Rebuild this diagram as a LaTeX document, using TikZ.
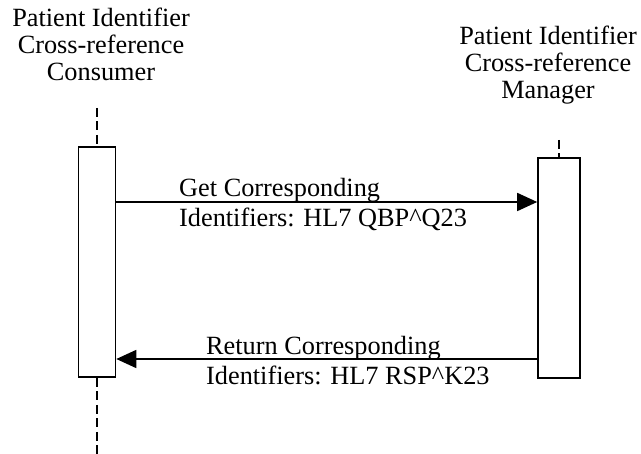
\documentclass[tikz,border=0pt]{standalone}
\usepackage{fontspec}
\setmainfont{Liberation Serif}
\usetikzlibrary{arrows.meta}
\begin{document}
\begin{tikzpicture}[x=1pt,y=-1pt,
  title/.style={align=center,inner sep=0pt,anchor=north,font=\fontsize{26.3}{27}\selectfont},
  lbl/.style={align=left,inner sep=0pt,anchor=north west,font=\fontsize{26.3}{30}\selectfont},
  actbox/.style={draw,line width=1.6pt,fill=white,inner sep=0pt,minimum width=37pt},
  life/.style={line width=2pt,dash pattern=on 9pt off 4.5pt},
  msg/.style={line width=1.6pt,-{Triangle[length=20pt,width=18pt]}}]
\useasboundingbox (0,0) rectangle (641,454);
\node[title] (ct) at (101,8) {Patient Identifier\\Cross-reference\\Consumer};
\node[title] (mt) at (548,26) {Patient Identifier\\Cross-reference\\Manager};
\coordinate (ctop) at (97,108);
\coordinate (cbot) at (97,454);
\coordinate (mtop) at (559,140);
\node[actbox,minimum height=230pt] (cbox) at (97,262) {};
\node[actbox,minimum height=220pt,minimum width=42pt] (mbox) at (559,268) {};
\draw[life] (ctop) -- (cbox.north);
\draw[life] (cbox.south) -- (cbot);
\draw[life] (mtop) -- (mbox.north);
\draw[msg] (cbox.east |- 0,202) -- (mbox.west |- 0,202);
\draw[msg] (mbox.west |- 0,359) -- (cbox.east |- 0,359);
\node[lbl] (l1) at (179,178) {Get Corresponding\\Identifiers: HL7 QBP\textasciicircum Q23};
\node[lbl] (l2) at (206,336) {Return Corresponding\\Identifiers: HL7 RSP\textasciicircum K23};
\end{tikzpicture}
\end{document}
